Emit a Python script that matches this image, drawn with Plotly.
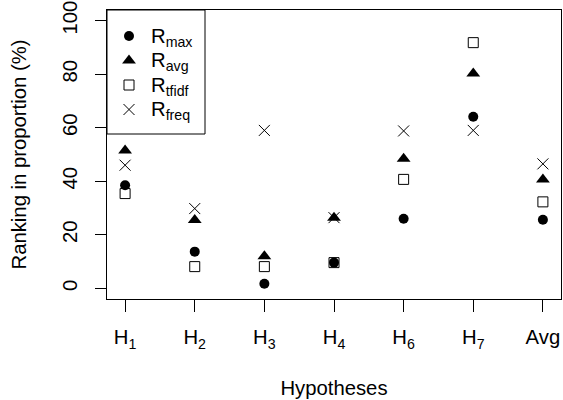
import plotly.graph_objects as go

categories = ["H<sub>1</sub>", "H<sub>2</sub>", "H<sub>3</sub>", "H<sub>4</sub>", "H<sub>6</sub>", "H<sub>7</sub>", "Avg"]
x_pos = [1, 2, 3, 4, 5, 6, 7]
r_max = [38.5, 13.7, 1.7, 9.6, 26.0, 64.1, 25.6]
r_avg = [51.5, 25.5, 12.0, 26.4, 48.4, 80.3, 40.7]
r_tfidf = [35.4, 8.1, 8.1, 9.6, 40.7, 91.8, 32.3]
r_freq = [46.0, 29.8, 59.0, 26.4, 58.8, 59.0, 46.5]
series_names = ["R<sub>max</sub>", "R<sub>avg</sub>", "R<sub>tfidf</sub>", "R<sub>freq</sub>"]
y_ticks = [0, 20, 40, 60, 80, 100]

FONT = "Liberation Sans, Arial, Helvetica, sans-serif"
FS = 20.3

markers = [
    dict(symbol="circle", size=10, color="black"),
    dict(symbol="triangle-up", size=12, color="black"),
    dict(symbol="square-open", size=10, color="black", line=dict(width=1, color="black")),
    dict(symbol="x-thin-open", size=11, color="black", line=dict(width=1, color="black")),
]

fig = go.Figure()
for name, vals, mk in zip(series_names, [r_max, r_avg, r_tfidf, r_freq], markers):
    fig.add_trace(go.Scatter(x=x_pos, y=vals, mode="markers", name=name, marker=mk,
                             showlegend=False, cliponaxis=False))

# Manual legend (pixel-like overlay axes spanning the plot area)
PL, PR, PT, PB = 107, 561, 10, 299
leg_x_sym, leg_x_txt = 129, 149
leg_rows = [36, 60.5, 85, 109.5]
for name, mk, yy in zip(series_names, markers, leg_rows):
    fig.add_trace(go.Scatter(x=[leg_x_sym], y=[yy], xaxis="x2", yaxis="y2", mode="markers",
                             marker=mk, showlegend=False, hoverinfo="skip"))
    fig.add_annotation(x=leg_x_txt, y=yy + 1, xref="x2", yref="y2", text=name, showarrow=False,
                       xanchor="left", yanchor="middle", font=dict(size=FS, family=FONT, color="black"))
fig.add_shape(type="rect", xref="x2", yref="y2", x0=PL, x1=205, y0=PT, y1=134,
              line=dict(color="black", width=1), fillcolor="rgba(0,0,0,0)", layer="above")

fig.update_layout(
    width=563, height=400,
    margin=dict(l=PL, r=563 - PR, t=PT, b=400 - PB),
    paper_bgcolor="white", plot_bgcolor="white",
    font=dict(family=FONT, size=FS, color="black"),
    showlegend=False,
    xaxis=dict(range=[0.74, 7.26], tickvals=x_pos, ticktext=categories,
               showline=True, linecolor="black", linewidth=1, mirror=True,
               ticks="outside", ticklen=12, tickcolor="black", tickwidth=1,
               ticklabelstandoff=8,
               showgrid=False, zeroline=False,
               title=dict(text="Hypotheses", standoff=30, font=dict(size=FS))),
    yaxis=dict(range=[-4, 104], tickvals=y_ticks,
               showline=True, linecolor="black", linewidth=1, mirror=True,
               ticks="outside", ticklen=11, tickcolor="black", tickwidth=1,
               tickangle=-90, ticklabelstandoff=10,
               showgrid=False, zeroline=False,
               title=dict(text="Ranking in proportion (%)", standoff=26, font=dict(size=FS))),
    xaxis2=dict(overlaying="x", anchor="y2", range=[PL, PR], visible=False, fixedrange=True),
    yaxis2=dict(overlaying="y", anchor="x2", range=[PB, PT], visible=False, fixedrange=True),
)

fig.write_html("out.html", config={"displayModeBar": False},
               post_script="document.body.style.margin='0';document.body.style.padding='0';")
